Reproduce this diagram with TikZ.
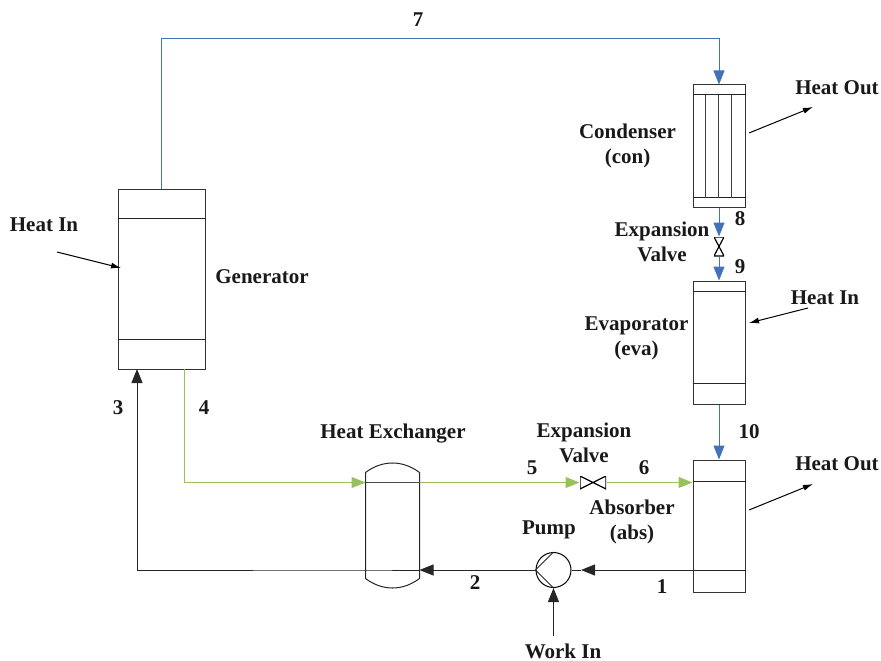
\documentclass[tikz,border=0pt]{standalone}
\usepackage{fontspec}
\setmainfont{Liberation Serif}
\usetikzlibrary{arrows.meta,positioning,calc}
\definecolor{flowblue}{HTML}{4472B8}
\definecolor{flowgreen}{HTML}{98C05C}

\begin{document}
\begin{tikzpicture}[x=1pt,y=-1pt,font=\fontsize{21}{25}\selectfont\bfseries,line width=1pt,
  vessel/.style={draw=black!80,inner sep=0pt,minimum width=#1},
  lbl/.style={align=center,inner sep=0pt,text=black!90},
  valveh/.style={inner sep=0pt,minimum width=26pt,minimum height=13pt,
    path picture={\draw[line width=1.2pt] (path picture bounding box.north west) -- (path picture bounding box.south east) -- (path picture bounding box.north east) -- (path picture bounding box.south west) -- cycle;}},
  valvev/.style={inner sep=0pt,minimum width=10pt,minimum height=19pt,
    path picture={\draw[line width=1.2pt] (path picture bounding box.north west) -- (path picture bounding box.south east) -- (path picture bounding box.south west) -- (path picture bounding box.north east) -- cycle;}},
  blueflow/.style={draw=flowblue,-{Triangle[length=14pt,width=11pt]}},
  greenflow/.style={draw=flowgreen,-{Triangle[length=14pt,width=11pt]}},
  blackflow/.style={draw=black!85,-{Triangle[length=14pt,width=11pt]}},
  heat/.style={draw=black,-{Latex[length=10pt,width=6pt]}}]
  \useasboundingbox (0,0) rectangle (881,661);
  % vessels
  \node[vessel=87pt,minimum height=180pt] (gen) at (161.5,279) {};
  \node[vessel=52pt,minimum height=122pt] (con) at (719,146) {};
  \node[vessel=52pt,minimum height=123pt] (eva) at (719,342.5) {};
  \node[vessel=52pt,minimum height=132pt] (abs) at (719,526) {};
  \node[inner sep=0pt,minimum width=53pt,minimum height=105pt] (hx) at (392.5,525.5) {};
  \node[draw=black,circle,inner sep=0pt,minimum size=35pt] (pump) at (553.5,570) {};
  \node[valveh] (valvea) at (593,482.5) {};
  \node[valvev] (valveb) at (719,246.5) {};
  \foreach \a/\b/\c in {gen/30/30,con/10/10,eva/11/21,abs/22/22} {
    \draw[black!85] ([yshift=-\b pt]\a.north west) -- ([yshift=-\b pt]\a.north east);
    \draw[black!85] ([yshift=\c pt]\a.south west) -- ([yshift=\c pt]\a.south east);
  }
  \foreach \s in {13,26,39} \draw[black!75] ([xshift=\s pt,yshift=-10pt]con.north west) -- ([xshift=\s pt,yshift=10pt]con.south west);
  \draw[black!85] (hx.south west) -- (hx.north west) to[bend left=37] (hx.north east) -- (hx.south east) to[bend left=37] (hx.south west);
  \draw[black!85] (pump.north) -- (pump.west) -- (pump.south);
  % flows
  \coordinate (topcorner) at (719,39);
  \coordinate (genout) at (184,369);
  \coordinate (genin) at (137,369);
  \coordinate (pumpstub) at (581,570);
  \draw[blueflow] (gen.north) |- (topcorner) -- (con.north);
  \draw[blueflow] (con.south) -- (valveb.north);
  \draw[blueflow] (valveb.south) -- (eva.north);
  \draw[blueflow] (eva.south) -- (abs.north);
  \draw[greenflow] (genout) |- (hx.west |- valvea);
  \draw[black!70] (hx.west |- valvea) -- (hx.east |- valvea);
  \draw[greenflow] (hx.east |- valvea) -- (valvea.west);
  \draw[greenflow] (valvea.east) -- (abs.west |- valvea);
  \draw[blackflow] (abs.west |- pump) -- (pumpstub);
  \draw[black!85] (pumpstub) -- (pump.east);
  \draw[blackflow] (pump.west) -- (hx.east |- pump);
  \draw[blackflow] (hx.east |- pump) -- (hx.west |- pump) -| (genin);
  % heat and work
  \coordinate (hotail) at (749,133);
  \coordinate (hohead) at (813,107);
  \coordinate (hitail) at (57,252);
  \coordinate (hihead) at (121,268);
  \coordinate (ehtail) at (808,308);
  \coordinate (ehhead) at (749,323);
  \coordinate (ahtail) at (749,510);
  \coordinate (ahhead) at (813,484);
  \coordinate (worktail) at (553.5,636);
  \draw[heat] (hotail) -- (hohead);
  \draw[heat] (hitail) -- (hihead);
  \draw[heat] (ehtail) -- (ehhead);
  \draw[heat] (ahtail) -- (ahhead);
  \draw[blackflow] (worktail) -- (pump.south);
  % labels
  \node[lbl] (n7) at (418,20) {7};
  \node[lbl] (hoa) at (837,88) {Heat Out};
  \node[lbl] (conl) at (627.5,145.5) {Condenser\\(con)};
  \node[lbl] (vbl) at (662,241.5) {Expansion\\Valve};
  \node[lbl] (n8) at (740,219) {8};
  \node[lbl] (n9) at (740,267) {9};
  \node[lbl] (hib) at (825,298) {Heat In};
  \node[lbl] (eval) at (636.5,338.5) {Evaporator\\(eva)};
  \node[lbl] (n10) at (749,432) {10};
  \node[lbl] (hoc) at (837,464) {Heat Out};
  \node[lbl] (absl) at (632,521.5) {Absorber\\(abs)};
  \node[lbl] (val) at (584,442.5) {Expansion\\Valve};
  \node[lbl] (n5) at (532,468) {5};
  \node[lbl] (n6) at (644,468) {6};
  \node[lbl] (hxl) at (393,434) {Heat Exchanger};
  \node[lbl] (pumpl) at (549,530) {Pump};
  \node[lbl] (n2) at (475,583) {2};
  \node[lbl] (n1) at (662,587) {1};
  \node[lbl] (workl) at (563,651) {Work In};
  \node[lbl] (n3) at (118,408) {3};
  \node[lbl] (n4) at (204,408) {4};
  \node[lbl] (genl) at (262,277) {Generator};
  \node[lbl] (hia) at (44,225) {Heat In};
\end{tikzpicture}
\end{document}
